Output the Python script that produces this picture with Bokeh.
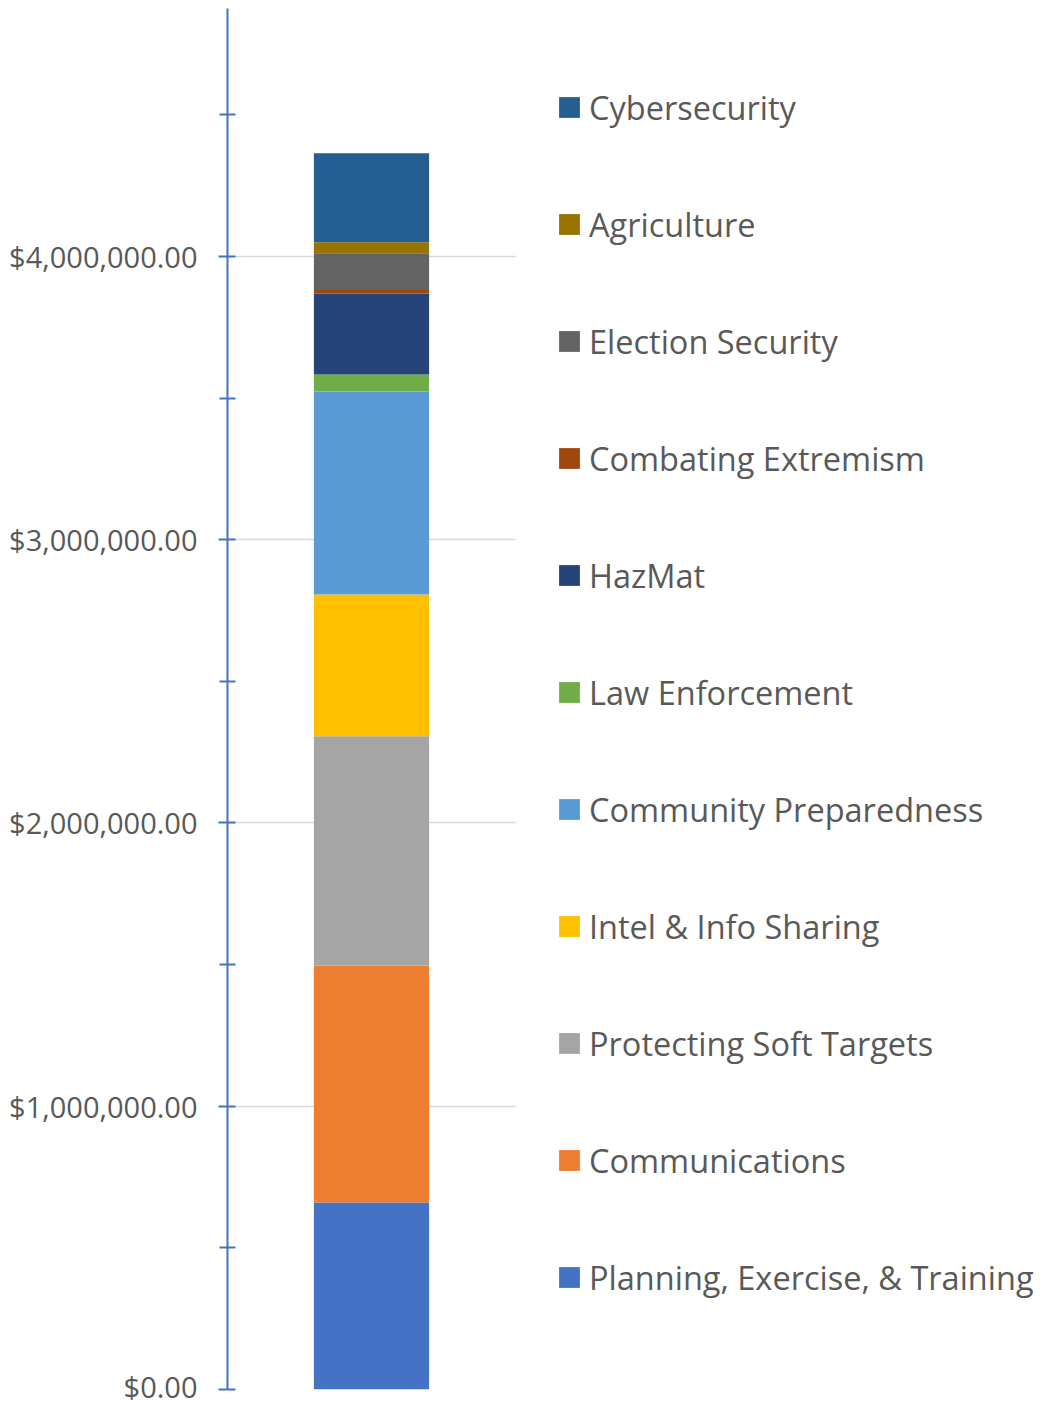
from bokeh.plotting import figure
from bokeh.models import ColumnDataSource, Range1d, FixedTicker, NumeralTickFormatter
from bokeh.embed import file_html
from bokeh.resources import INLINE

categories = ["Planning, Exercise, & Training", "Communications", "Protecting Soft Targets",
              "Intel & Info Sharing", "Community Preparedness", "Law Enforcement", "HazMat",
              "Combating Extremism", "Election Security", "Agriculture", "Cybersecurity"]
amounts = [660000, 837000, 809000, 500000, 717000, 60000, 286000, 12000, 130000, 39000, 314000]
colors = ["#4472C4", "#ED7D31", "#A5A5A5", "#FFC000", "#5B9BD5", "#70AD47", "#264478",
          "#9E480E", "#636363", "#997300", "#255E91"]
bar_x = [0.5]
y_ticks = [0, 1000000, 2000000, 3000000, 4000000]
y_minor_ticks = [500000, 1500000, 2500000, 3500000, 4500000]
y_max = 4875000

data = {"x": bar_x}
for c, a in zip(categories, amounts):
    data[c] = [a]
source = ColumnDataSource(data)

W, H = 1042, 1405
frame_left = 227
frame_w = W - frame_left
p = figure(width=W, height=H, output_backend="svg", toolbar_location=None,
           x_range=Range1d(0, frame_w / 288.0), y_range=Range1d(0, y_max),
           min_border_left=frame_left, min_border_right=0, min_border_top=8,
           min_border_bottom=16)
p.outline_line_color = None
p.background_fill_color = "white"
p.xaxis.visible = False
p.xgrid.visible = False

renderers = p.vbar_stack(categories, x="x", width=0.4, color=colors, source=source,
                         legend_label=categories, line_width=0)

yaxis = p.yaxis[0]
yaxis.ticker = FixedTicker(ticks=y_ticks, minor_ticks=y_minor_ticks)
yaxis.formatter = NumeralTickFormatter(format="$0,0.00")
yaxis.axis_line_color = "#4472C4"
yaxis.axis_line_width = 2
yaxis.major_tick_line_color = "#4472C4"
yaxis.major_tick_line_width = 2
yaxis.minor_tick_line_color = "#4472C4"
yaxis.minor_tick_line_width = 2
yaxis.major_tick_in = 8
yaxis.major_tick_out = 9
yaxis.minor_tick_in = 8
yaxis.minor_tick_out = 8
yaxis.major_label_standoff = 21
yaxis.major_label_text_font = "Open Sans"
yaxis.major_label_text_font_size = "29px"
yaxis.major_label_text_color = "#595959"

grid = p.ygrid[0]
grid.ticker = FixedTicker(ticks=y_ticks)
grid.grid_line_color = "#D9D9D9"
grid.grid_line_width = 1.5
if "cross_bounds" in grid.properties():
    grid.cross_bounds = (0, 1)
else:
    grid.visible = False
    p.segment(x0=0, x1=1, y0=y_ticks, y1=y_ticks, line_color="#D9D9D9", line_width=1.5,
              level="underlay")

leg = p.legend[0]
leg.items = list(reversed(leg.items))
leg.location = (329, 89.5)
leg.margin = 0
leg.padding = 0
leg.border_line_color = None
leg.background_fill_alpha = 0
leg.glyph_width = 26
leg.glyph_height = 26
leg.label_height = 26
leg.label_standoff = 7
leg.spacing = 72
leg.label_text_font = "Open Sans"
leg.label_text_font_size = "32.5px"
leg.label_text_color = "#595959"

open("out.html", "w").write(file_html(p, INLINE))
